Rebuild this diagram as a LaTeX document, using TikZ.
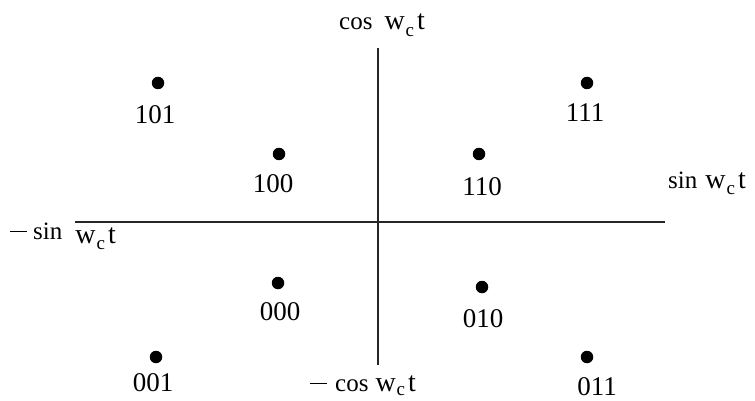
\documentclass[tikz,border=0pt]{standalone}
\usepackage{fontspec}
\setmainfont{Liberation Serif}
\newcommand{\wct}{{\fontsize{28}{28}\selectfont w\hspace{1pt}\raisebox{-6.5pt}{\fontsize{19}{19}\selectfont c}\hspace{3pt}t}}
\newcommand{\wctlow}{{\fontsize{28}{28}\selectfont w\hspace{1pt}\raisebox{-4.5pt}{\fontsize{19}{19}\selectfont c}\hspace{3pt}t}}
\begin{document}
\begin{tikzpicture}[x=1pt,y=-1pt,
  axis/.style={line width=1.6pt, black!85},
  dotpt/.style={circle, fill=black, inner sep=0pt, minimum size=12.5pt},
  code/.style={font=\fontsize{27}{29}\selectfont, inner sep=0pt, anchor=center},
  axlab/.style={font=\fontsize{25}{28}\selectfont, inner sep=0pt, anchor=base west}]
\useasboundingbox (0,0) rectangle (755,401);
% axes
\coordinate (top) at (378,48);
\coordinate (bot) at (378,365);
\coordinate (lft) at (75,222);
\coordinate (rgt) at (665,222);
\draw[axis] (top) -- (bot);
\draw[axis] (lft) -- (rgt);
% axis labels
\node[axlab] (lcos) at (339,30) {cos\hspace{12pt}\wct};
\node[axlab] (lsin) at (668,188) {sin\hspace{8pt}\wct};
\node[axlab] (lmsin) at (10,239) {\rule[7pt]{17pt}{1.3pt}\hspace{6pt}sin\hspace{13pt}\raisebox{-4pt}{\wct}};
\node[axlab] (lmcos) at (310,391) {\rule[7pt]{17pt}{1.3pt}\hspace{8pt}cos\hspace{7pt}\wctlow};
% points
\node[dotpt] (p101) at (158,83) {};
\node[dotpt] (p100) at (279,154) {};
\node[dotpt] (p111) at (587,83) {};
\node[dotpt] (p110) at (479,154) {};
\node[dotpt] (p000) at (278,283) {};
\node[dotpt] (p010) at (482,287) {};
\node[dotpt] (p001) at (156,357) {};
\node[dotpt] (p011) at (587,357) {};
% codes
\node[code] (c101) at (155,115) {101};
\node[code] (c100) at (273,184) {100};
\node[code] (c111) at (585,113) {111};
\node[code] (c110) at (482,187) {110};
\node[code] (c000) at (280,312) {000};
\node[code] (c010) at (483,319) {010};
\node[code] (c001) at (153,383) {001};
\node[code] (c011) at (597,387) {011};
\end{tikzpicture}
\end{document}
